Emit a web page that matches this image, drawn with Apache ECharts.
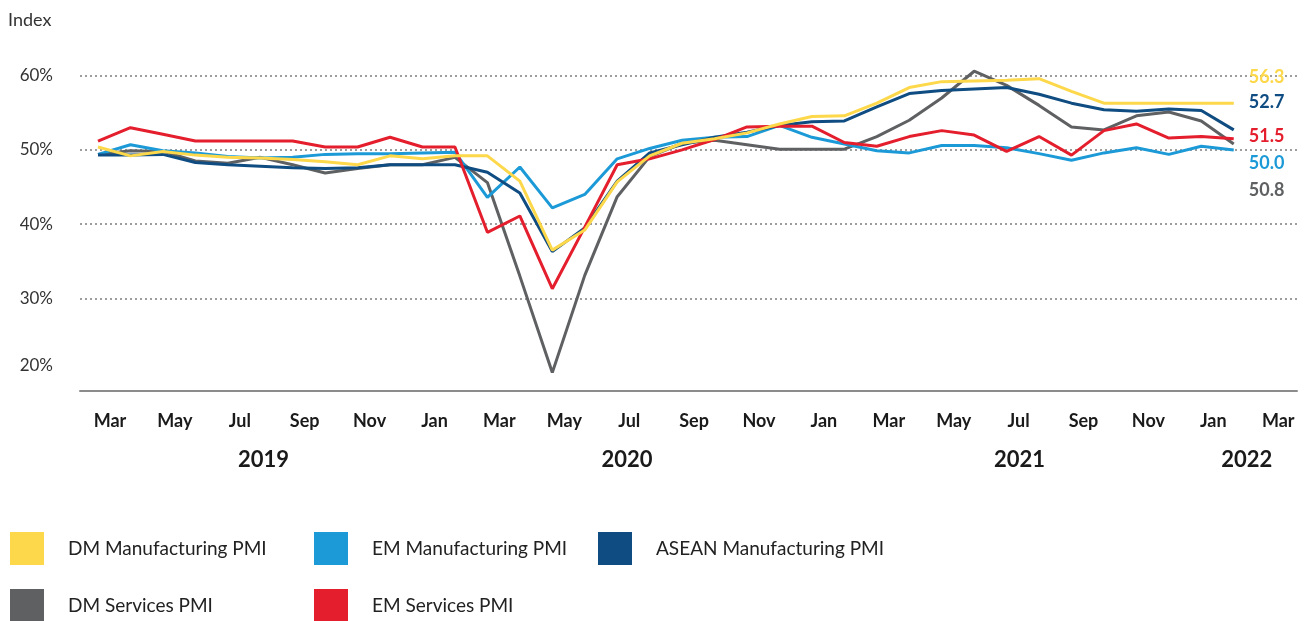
<!DOCTYPE html>
<html>
<head>
<meta charset="utf-8">
<script src="https://cdn.jsdelivr.net/npm/echarts@6/dist/echarts.min.js"></script>
<style>
  html, body { margin: 0; padding: 0; background: #ffffff; }
  #chart { width: 1304px; height: 621px; }
</style>
</head>
<body>
<div id="chart"></div>
<script>
// Monthly purchasing managers' indices, March 2019 to February 2022 (axis runs to March 2022)
const months = [
  'Mar 2019','Apr 2019','May 2019','Jun 2019','Jul 2019','Aug 2019','Sep 2019','Oct 2019','Nov 2019','Dec 2019',
  'Jan 2020','Feb 2020','Mar 2020','Apr 2020','May 2020','Jun 2020','Jul 2020','Aug 2020','Sep 2020','Oct 2020','Nov 2020','Dec 2020',
  'Jan 2021','Feb 2021','Mar 2021','Apr 2021','May 2021','Jun 2021','Jul 2021','Aug 2021','Sep 2021','Oct 2021','Nov 2021','Dec 2021',
  'Jan 2022','Feb 2022','Mar 2022'
];
const yearLabels = ['2019', '2020', '2021', '2022'];
const yTicks = [20, 30, 40, 50, 60];

const dmManufacturing = [
  50.4, 49.2, 49.8, 49.3, 49.0, 48.9, 48.7, 48.4, 48.0, 49.2, 48.8, 49.2,
  49.2, 45.8, 36.5, 39.2, 45.7, 49.2, 50.9, 51.5, 52.3, 53.5, 54.5, 54.6,
  56.3, 58.4, 59.2, 59.3, 59.4, 59.6, 57.9, 56.3, 56.3, 56.3, 56.3, 56.3
];
const emManufacturing = [
  49.4, 50.7, 49.9, 49.6, 49.1, 48.9, 49.0, 49.4, 49.5, 49.5, 49.6, 49.7,
  43.6, 47.7, 42.2, 44.0, 48.8, 50.2, 51.3, 51.7, 51.8, 53.3, 51.7, 50.8,
  49.9, 49.6, 50.6, 50.6, 50.3, 49.5, 48.6, 49.6, 50.3, 49.4, 50.5, 50.0
];
const aseanManufacturing = [
  49.3, 49.3, 49.4, 48.3, 48.0, 47.8, 47.6, 47.5, 47.6, 48.0, 48.0, 48.0,
  47.0, 44.2, 36.3, 39.5, 45.8, 49.6, 50.7, 51.7, 52.4, 53.3, 53.8, 53.9,
  55.8, 57.6, 58.0, 58.2, 58.4, 57.5, 56.3, 55.4, 55.2, 55.5, 55.3, 52.7
];
const dmServices = [
  49.4, 49.9, 49.8, 48.5, 48.2, 49.0, 48.0, 46.9, 47.5, 48.0, 48.0, 49.0,
  45.6, 33.0, 20.0, 33.1, 43.7, 49.1, 50.9, 51.3, 50.7, 50.1, 50.1, 50.1,
  51.8, 54.0, 57.0, 60.6, 58.7, 56.0, 53.1, 52.7, 54.6, 55.1, 53.9, 50.8
];
const emServices = [
  51.2, 53.0, 52.1, 51.2, 51.2, 51.2, 51.2, 50.4, 50.4, 51.7, 50.4, 50.4,
  38.9, 41.1, 31.3, 39.6, 48.0, 48.8, 50.0, 51.4, 53.1, 53.2, 53.2, 51.0,
  50.5, 51.8, 52.6, 52.0, 49.8, 51.8, 49.3, 52.6, 53.5, 51.6, 51.8, 51.5
];

const seriesDefs = [
  { name: 'DM Services PMI',          data: dmServices,         color: '#5E6062', labelDy: 46 },
  { name: 'EM Manufacturing PMI',     data: emManufacturing,    color: '#1B9AD7', labelDy: 13 },
  { name: 'ASEAN Manufacturing PMI',  data: aseanManufacturing, color: '#0F4C81', labelDy: -28 },
  { name: 'EM Services PMI',          data: emServices,         color: '#E41E2C', labelDy: -3 },
  { name: 'DM Manufacturing PMI',     data: dmManufacturing,    color: '#FDD84A', labelDy: -26 }
];

// legend blocks: two rows of coloured squares
const legendLayout = [
  { name: 'DM Manufacturing PMI',    left: 10,  top: 532 },
  { name: 'EM Manufacturing PMI',    left: 314, top: 532 },
  { name: 'ASEAN Manufacturing PMI', left: 598, top: 532 },
  { name: 'DM Services PMI',         left: 10,  top: 589 },
  { name: 'EM Services PMI',         left: 314, top: 589 }
];

const FONT = 'Lato, "Open Sans", sans-serif';
const PX_PER_MONTH = 32.45;
const GRID_LEFT = 80, GRID_RIGHT = 7, FIRST_POINT_X = 98;
const plotWidth = 1304 - GRID_LEFT - GRID_RIGHT;
const xMin = -(FIRST_POINT_X - GRID_LEFT) / PX_PER_MONTH;
const xMax = xMin + plotWidth / PX_PER_MONTH;

const monthTickIdx = months.map((m, i) => i).filter(i => i % 2 === 0);
const yearAnchors = [5.1, 16.3, 28.4, 35.4];

const chart = echarts.init(document.getElementById('chart'), null, { renderer: 'canvas' });

chart.setOption({
  animation: false,
  backgroundColor: '#ffffff',
  title: {
    text: 'Index', left: 3, top: 6,
    textStyle: { fontFamily: FONT, fontSize: 18, fontWeight: 'normal', color: '#333333' }
  },
  legend: legendLayout.map(l => ({
    data: [l.name], left: l.left, top: l.top, padding: 0,
    icon: 'rect', itemWidth: 34, itemHeight: 33, itemGap: 0,
    selectedMode: false,
    textStyle: { fontFamily: FONT, fontSize: 19, color: '#222222', padding: [2, 0, 0, 19] }
  })),
  grid: { left: GRID_LEFT, right: GRID_RIGHT, top: 75.7, bottom: 248.4 },
  xAxis: [
    {
      type: 'value', min: xMin, max: xMax, offset: 18.5,
      axisLine: { show: true, lineStyle: { color: '#8c8c8c', width: 2 } },
      axisTick: { show: false },
      splitLine: { show: false },
      axisLabel: {
        customValues: monthTickIdx,
        formatter: v => months[Math.round(v)].slice(0, 3),
        margin: 21, padding: [0, 0, 0, 24],
        fontFamily: FONT, fontSize: 18, fontWeight: 'bold', color: '#1a1a1a'
      }
    },
    {
      type: 'value', min: xMin, max: xMax, offset: 18.5, position: 'bottom',
      axisLine: { show: false }, axisTick: { show: false }, splitLine: { show: false },
      axisLabel: {
        customValues: yearAnchors,
        formatter: v => {
          const k = yearAnchors.findIndex(a => Math.abs(a - v) < 1e-6);
          return k >= 0 ? yearLabels[k] : '';
        },
        margin: 58,
        fontFamily: FONT, fontSize: 22, fontWeight: 'bold', color: '#1a1a1a'
      }
    }
  ],
  yAxis: {
    type: 'value', min: yTicks[0], max: yTicks[yTicks.length - 1], interval: 10,
    axisLine: { show: false }, axisTick: { show: false },
    axisLabel: {
      formatter: v => (v === yTicks[0] ? '{low|' + v + '%}' : v + '%'),
      margin: 27,
      fontFamily: FONT, fontSize: 17, color: '#333333',
      rich: { low: { fontFamily: FONT, fontSize: 17, color: '#333333', padding: [0, 0, 14, 0] } }
    },
    splitLine: {
      show: true,
      lineStyle: {
        color: ['rgba(0,0,0,0)', '#7d7d7d', '#7d7d7d', '#7d7d7d', '#7d7d7d'],
        type: [2, 3], width: 1.5
      }
    }
  },
  series: seriesDefs.map(s => ({
    name: s.name,
    type: 'line',
    xAxisIndex: 0,
    data: s.data.map((v, i) => [i, v]),
    symbol: 'none',
    clip: false,
    color: s.color,
    itemStyle: { color: s.color },
    lineStyle: { color: s.color, width: 3 },
    endLabel: {
      show: true,
      formatter: p => p.value[1].toFixed(1),
      offset: [7, s.labelDy],
      fontFamily: FONT, fontSize: 18, fontWeight: 'bold', color: s.color
    }
  }))
});
</script>
</body>
</html>
